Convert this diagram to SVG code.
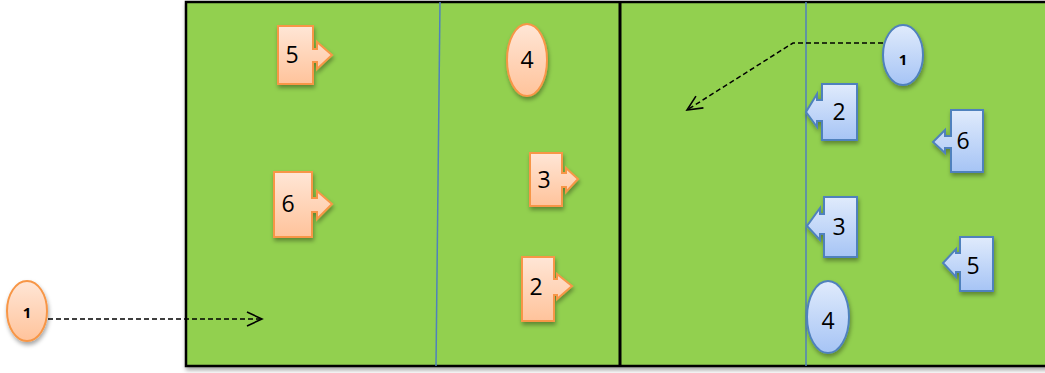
<svg xmlns="http://www.w3.org/2000/svg" width="1045" height="373" viewBox="0 0 1045 373">
<defs>
<linearGradient id="og" x1="0" y1="0" x2="0" y2="1"><stop offset="0" stop-color="#ffe6d6"/><stop offset="1" stop-color="#ffc39b"/></linearGradient>
<linearGradient id="bg" x1="0" y1="0" x2="0" y2="1"><stop offset="0" stop-color="#e0ebfc"/><stop offset="1" stop-color="#a6c4f5"/></linearGradient>
<filter id="sh" x="-30%" y="-30%" width="160%" height="160%"><feDropShadow dx="1" dy="3" stdDeviation="2" flood-color="#000" flood-opacity="0.35"/></filter>
<marker id="ah" markerWidth="20" markerHeight="16" refX="17" refY="8" orient="auto" markerUnits="userSpaceOnUse"><path d="M2,1 L17,8 L2,15" fill="none" stroke="#000" stroke-width="1.6"/></marker>
<style>
.o{fill:url(#og);stroke:#f79646;stroke-width:2;filter:url(#sh)}
.b{fill:url(#bg);stroke:#4f81bd;stroke-width:2;filter:url(#sh)}
.t{font-family:"Open Sans","Liberation Sans",sans-serif;font-size:23px;fill:#000;text-anchor:middle}
.s{font-family:"Open Sans","Liberation Sans",sans-serif;font-size:15px;font-weight:bold;fill:#000;text-anchor:middle}
.d{fill:none;stroke:#000;stroke-width:1.5;stroke-dasharray:5,3;marker-end:url(#ah)}
</style>
</defs>
<rect width="1045" height="373" fill="#fff"/>
<g id="court">
<rect x="186" y="2" width="880" height="364" fill="#92d050" stroke="#000" stroke-width="2.5" filter="url(#sh)"/>
<line x1="440" y1="2" x2="436" y2="366" stroke="#4f81bd" stroke-width="1.5"/>
<line x1="806" y1="2" x2="806" y2="366" stroke="#4f81bd" stroke-width="1.5"/>
<line x1="620" y1="2" x2="620" y2="366" stroke="#000" stroke-width="3"/>
</g>
<g id="connectors">
<path class="d" d="M48,319 H262"/>
<path class="d" d="M883,43 H793 L687,110"/>
</g>
<g id="o1"><ellipse class="o" cx="27" cy="311" rx="20" ry="30"/><text class="s" x="27" y="318">1</text></g>
<g id="o5"><path class="o" d="M278,26 H313 V49 H317 V42 L332,55 L317,69 V62 H313 V84 H278 Z"/><text class="t" x="292" y="63">5</text></g>
<g id="o6"><path class="o" d="M274,172 H312 V198 H317 V191 L332,204 L317,219 V212 H312 V237 H274 Z"/><text class="t" x="288" y="212">6</text></g>
<g id="o4"><ellipse class="o" cx="527" cy="60" rx="20" ry="36"/><text class="t" x="527" y="68">4</text></g>
<g id="o3"><path class="o" d="M530,153 H562 V173 H566 V168 L578,179 L566,192 V187 H562 V206 H530 Z"/><text class="t" x="544" y="188">3</text></g>
<g id="o2"><path class="o" d="M522,257 H554 V279 H557 V274 L572,286 L557,299 V295 H554 V321 H522 Z"/><text class="t" x="536" y="295">2</text></g>
<g id="b1"><ellipse class="b" cx="903" cy="55" rx="20" ry="30"/><text class="s" x="903" y="65">1</text></g>
<g id="b2"><path class="b" d="M857,84 H822 V100 H817 V94 L806,112 L817,127 V121 H822 V140 H857 Z"/><text class="t" x="839" y="120">2</text></g>
<g id="b6"><path class="b" d="M983,110 H951 V136 H945 V130 L933,142 L945,153 V148 H951 V172 H983 Z"/><text class="t" x="963" y="149">6</text></g>
<g id="b3"><path class="b" d="M857,197 H824 V214 H820 V208 L807,226 L820,240 V234 H824 V257 H857 Z"/><text class="t" x="839" y="235">3</text></g>
<g id="b5"><path class="b" d="M993,237 H960 V253 H956 V249 L943,263 L956,277 V272 H960 V291 H993 Z"/><text class="t" x="973" y="274">5</text></g>
<g id="b4"><ellipse class="b" cx="828" cy="317" rx="21" ry="36"/><text class="t" x="828" y="329">4</text></g>
</svg>
